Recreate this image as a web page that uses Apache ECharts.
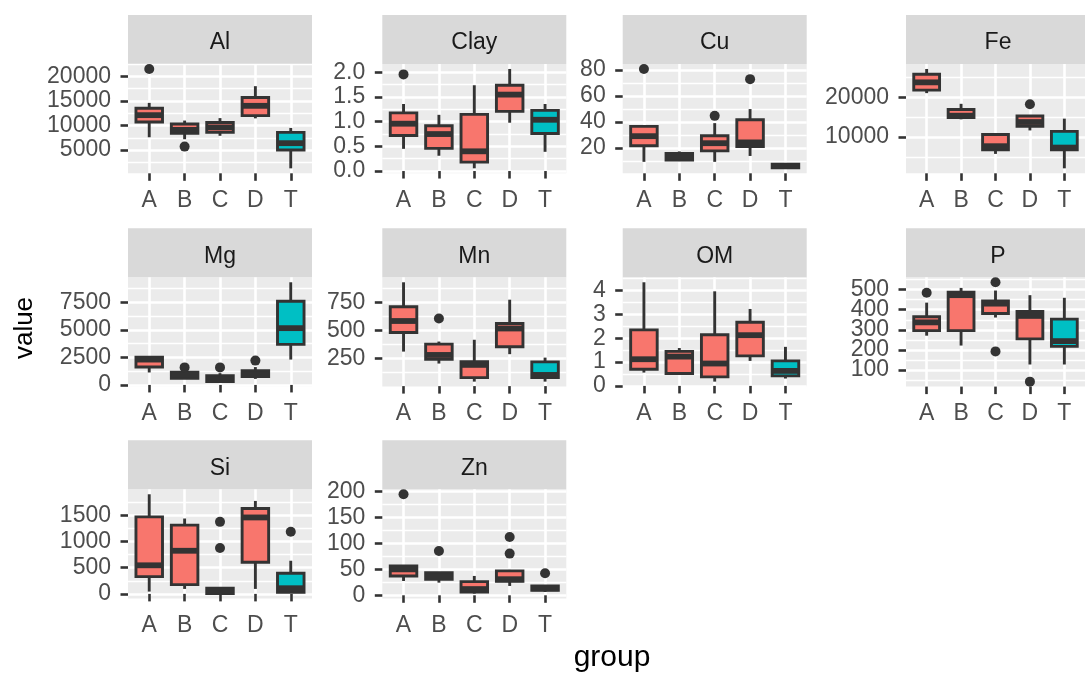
<!DOCTYPE html>
<html>
<head>
<meta charset="utf-8">
<script src="https://cdn.jsdelivr.net/npm/echarts@6/dist/echarts.min.js"></script>
<style>
  html, body { margin: 0; padding: 0; background: #ffffff; }
  #chart { width: 1085px; height: 675px; }
</style>
</head>
<body>
<div id="chart"></div>
<script>
// Groups on every panel's x axis
const groups = ['A', 'B', 'C', 'D', 'T'];
const elements = ['Al', 'Clay', 'Cu', 'Fe', 'Mg', 'Mn', 'OM', 'P', 'Si', 'Zn'];

// Box summaries per group (A, B, C, D, T): [lower whisker, Q1, median, Q3, upper whisker]
const alStats   = [[7600, 10700, 12100, 13500, 14600], [7200, 8400, 9100, 10300, 11000], [7900, 8600, 9600, 10600, 11500], [11450, 12000, 14000, 15700, 18000], [1280, 5000, 6400, 8600, 9500]];
const clayStats = [[0.45, 0.72, 0.96, 1.18, 1.36], [0.31, 0.46, 0.75, 0.92, 1.14], [0.055, 0.18, 0.40, 1.15, 1.74], [0.98, 1.21, 1.55, 1.74, 2.07], [0.39, 0.76, 1.04, 1.23, 1.36]];
const cuStats   = [[9.5, 21.8, 29.2, 36.7, 37.5], [10.8, 10.8, 13.3, 15.9, 17.5], [9.5, 17.9, 23.8, 29.5, 39.2], [14, 21.3, 24.4, 41.8, 50], [4.5, 4.9, 6.3, 7.7, 8.5]];
const feStats   = [[21100, 21860, 23820, 25860, 27200], [14480, 14910, 15400, 16950, 18400], [5750, 6770, 7700, 10660, 10920], [11680, 12700, 13800, 15340, 15500], [2110, 6770, 7350, 11430, 14660]];
const mgStats   = [[1130, 1620, 2300, 2510, 2550], [600, 610, 920, 1160, 1300], [300, 300, 515, 830, 1070], [550, 760, 970, 1290, 1620], [2300, 3680, 5150, 7590, 9310]];
const mnStats   = [[309, 480, 583, 711, 930], [202, 241, 279, 376, 399], [40, 76, 190, 219, 415], [286, 352, 516, 561, 774], [40, 76, 100, 217, 255]];
const omStats   = [[0.56, 0.70, 1.12, 2.35, 4.35], [0.50, 0.52, 1.23, 1.45, 1.59], [0.18, 0.38, 0.94, 2.15, 3.97], [1.05, 1.26, 2.13, 2.67, 3.23], [0.31, 0.42, 0.63, 1.05, 1.64]];
const pStats    = [[271, 296, 337, 365, 435], [222, 296, 472, 487, 508], [361, 381, 430, 443, 495], [128, 255, 369, 391, 472], [128, 218, 244, 353, 459]];
const siStats   = [[44, 329, 545, 1468, 1899], [95, 177, 822, 1310, 1437], [5, 6, 51, 108, 130], [95, 602, 1457, 1627, 1772], [20, 32, 108, 393, 632]];
const znStats   = [[27.6, 37.3, 50, 56.5, 57], [24.4, 30.9, 37, 43.7, 45], [3.2, 6.4, 12, 26.4, 37.3], [18, 27, 31, 47, 48.9], [6.4, 9.6, 13.5, 18, 18]];

// Points beyond the whiskers: [group, value]
const alOutliers   = [['A', 21500], ['B', 5700]];
const clayOutliers = [['A', 1.96]];
const cuOutliers   = [['A', 80.8], ['C', 44.8], ['D', 73]];
const feOutliers   = [['D', 18300]];
const mgOutliers   = [['B', 1590], ['C', 1590], ['D', 2205]];
const mnOutliers   = [['B', 606]];
const omOutliers   = [];
const pOutliers    = [['A', 484], ['C', 536], ['C', 193], ['D', 43]];
const siOutliers   = [['C', 1373], ['C', 874], ['T', 1183]];
const znOutliers   = [['A', 194.8], ['B', 85.5], ['D', 112.5], ['D', 80.4], ['T', 42.4]];

// Y tick labels per panel
const alTicks   = ['5000', '10000', '15000', '20000'];
const clayTicks = ['0.0', '0.5', '1.0', '1.5', '2.0'];
const cuTicks   = ['20', '40', '60', '80'];
const feTicks   = ['10000', '20000'];
const mgTicks   = ['0', '2500', '5000', '7500'];
const mnTicks   = ['250', '500', '750'];
const omTicks   = ['0', '1', '2', '3', '4'];
const pTicks    = ['100', '200', '300', '400', '500'];
const siTicks   = ['0', '500', '1000', '1500'];
const znTicks   = ['0', '50', '100', '150', '200'];

const panels = [
  { name: 'Al',   stats: alStats,   outliers: alOutliers,   ticks: alTicks },
  { name: 'Clay', stats: clayStats, outliers: clayOutliers, ticks: clayTicks },
  { name: 'Cu',   stats: cuStats,   outliers: cuOutliers,   ticks: cuTicks },
  { name: 'Fe',   stats: feStats,   outliers: feOutliers,   ticks: feTicks },
  { name: 'Mg',   stats: mgStats,   outliers: mgOutliers,   ticks: mgTicks },
  { name: 'Mn',   stats: mnStats,   outliers: mnOutliers,   ticks: mnTicks },
  { name: 'OM',   stats: omStats,   outliers: omOutliers,   ticks: omTicks },
  { name: 'P',    stats: pStats,    outliers: pOutliers,    ticks: pTicks },
  { name: 'Si',   stats: siStats,   outliers: siOutliers,   ticks: siTicks },
  { name: 'Zn',   stats: znStats,   outliers: znOutliers,   ticks: znTicks }
];

// Facet layout
const FONT = '"Liberation Sans", Arial, Helvetica, sans-serif';
const colLeft = [128, 382.3, 622.7, 906];
const rowTop = [64, 277.3, 489.3];
const panelW = 184;
const panelH = 109.3;
const stripH = 49;
const LINE = 2.9;
const GRID_LINE = 2.6;
const INK = '#333333';
const FILL_MAIN = '#F8766D';
const FILL_T = '#00BFC4';

const grids = [], xAxes = [], yAxes = [], series = [], graphics = [];

function renderBox(params, api) {
  const x = api.value(0);
  const lo = api.coord([x, api.value(1)]);
  const q1 = api.coord([x, api.value(2)]);
  const md = api.coord([x, api.value(3)]);
  const q3 = api.coord([x, api.value(4)]);
  const hi = api.coord([x, api.value(5)]);
  const half = api.size([0.75, 0])[0] / 2;
  const fill = api.value(6) ? FILL_T : FILL_MAIN;
  const cx = q1[0];
  const lineStyle = { stroke: INK, lineWidth: LINE };
  return {
    type: 'group',
    children: [
      { type: 'line', shape: { x1: cx, y1: hi[1], x2: cx, y2: q3[1] }, style: lineStyle },
      { type: 'line', shape: { x1: cx, y1: q1[1], x2: cx, y2: lo[1] }, style: lineStyle },
      { type: 'rect', shape: { x: cx - half, y: q3[1], width: half * 2, height: q1[1] - q3[1] },
        style: { fill: fill, stroke: INK, lineWidth: LINE } },
      { type: 'line', shape: { x1: cx - half, y1: md[1], x2: cx + half, y2: md[1] },
        style: { stroke: INK, lineWidth: LINE * 2 } }
    ]
  };
}

function yLabelStyle(values, labelOf) {
  return {
    customValues: values,
    formatter: v => labelOf[v] !== undefined ? labelOf[v] : String(v),
    showMinLabel: true, showMaxLabel: true, hideOverlap: false,
    fontSize: 23, fontFamily: FONT, color: '#4D4D4D', margin: 17, padding: [3, 0, 0, 0]
  };
}

panels.forEach((p, i) => {
  const col = i % 4, row = Math.floor(i / 4);
  const left = colLeft[col], top = rowTop[row];

  // y range: data span expanded by 5% on each side
  const values = [];
  p.stats.forEach(s => values.push(...s));
  p.outliers.forEach(o => values.push(o[1]));
  const lo = Math.min(...values), hi = Math.max(...values);
  const pad = (hi - lo) * 0.05;
  p.yMin = lo - pad;
  p.yMax = hi + pad;

  p.majors = p.ticks.map(Number);
  const step = p.majors.length > 1 ? p.majors[1] - p.majors[0] : p.majors[0];
  const minors = [p.majors[0] - step / 2];
  p.majors.forEach(m => minors.push(m + step / 2));
  p.minors = minors.filter(v => v > p.yMin && v < p.yMax);
  p.labelOf = {};
  p.ticks.forEach((t, k) => { p.labelOf[p.majors[k]] = t; });

  grids.push({ left: left, top: top, width: panelW, height: panelH, show: true,
    backgroundColor: '#EBEBEB', borderWidth: 0, containLabel: false });

  xAxes.push({
    type: 'value', gridIndex: i, min: 0.4, max: 5.6,
    axisLine: { show: false },
    axisTick: { show: true, customValues: [1, 2, 3, 4, 5], length: 7.5, lineStyle: { color: INK, width: GRID_LINE } },
    axisLabel: { customValues: [1, 2, 3, 4, 5], formatter: v => groups[Math.round(v) - 1],
      showMinLabel: true, showMaxLabel: true, hideOverlap: false,
      fontSize: 23, fontFamily: FONT, color: '#4D4D4D', margin: 16 },
    splitLine: { show: true, lineStyle: { color: '#FFFFFF', width: GRID_LINE } }
  });

  graphics.push({ type: 'rect', shape: { x: left, y: top - stripH, width: panelW, height: stripH },
    style: { fill: '#D9D9D9' }, silent: true });
  graphics.push({ type: 'text', x: left + panelW / 2, y: top - stripH / 2 + 3.5,
    style: { text: p.name, fill: '#1A1A1A', font: '23px ' + FONT, align: 'center', verticalAlign: 'middle' },
    silent: true });
});

// y axes 0..9: ticks, major grid lines and every other tick label
panels.forEach((p, i) => {
  yAxes.push({
    type: 'value', gridIndex: i, min: p.yMin, max: p.yMax, position: 'left',
    axisLine: { show: false },
    axisTick: { show: true, customValues: p.majors, length: 7.5, lineStyle: { color: INK, width: GRID_LINE } },
    axisLabel: yLabelStyle(p.majors.filter((v, k) => k % 2 === 0), p.labelOf),
    splitLine: { show: true, lineStyle: { color: '#FFFFFF', width: GRID_LINE } }
  });
});

// y axes 10..19: minor grid lines
panels.forEach((p, i) => {
  yAxes.push({
    type: 'value', gridIndex: i, min: p.yMin, max: p.yMax, position: 'right',
    axisLine: { show: false },
    axisTick: { show: false, customValues: p.minors },
    axisLabel: { show: false, customValues: p.minors },
    splitLine: { show: true, lineStyle: { color: '#FFFFFF', width: GRID_LINE / 2 } }
  });
});

// y axes 20..29: the remaining tick labels (kept on their own axis so close labels all show)
panels.forEach((p, i) => {
  const rest = p.majors.filter((v, k) => k % 2 === 1);
  yAxes.push({
    type: 'value', gridIndex: i, min: p.yMin, max: p.yMax, position: 'left', offset: 0,
    show: rest.length > 0,
    axisLine: { show: false },
    axisTick: { show: false, customValues: rest },
    axisLabel: yLabelStyle(rest, p.labelOf),
    splitLine: { show: false }
  });
});

panels.forEach((p, i) => {
  series.push({
    type: 'custom', name: p.name, xAxisIndex: i, yAxisIndex: i,
    renderItem: renderBox, clip: false, z: 3,
    encode: { x: 0, y: [1, 2, 3, 4, 5] },
    data: p.stats.map((s, g) => [g + 1, s[0], s[1], s[2], s[3], s[4], groups[g] === 'T' ? 1 : 0])
  });
  series.push({
    type: 'scatter', name: p.name + ' outliers', xAxisIndex: i, yAxisIndex: i,
    symbol: 'circle', symbolSize: 10, z: 4,
    itemStyle: { color: INK, opacity: 1 },
    data: p.outliers.map(o => [groups.indexOf(o[0]) + 1, o[1]])
  });
});

// axis titles
graphics.push({ type: 'text', x: 612, y: 658,
  style: { text: 'group', fill: '#000000', font: '30px ' + FONT, align: 'center', verticalAlign: 'middle' } });
graphics.push({ type: 'text', x: 25, y: 328, rotation: Math.PI / 2,
  style: { text: 'value', fill: '#000000', font: '26px ' + FONT, align: 'center', verticalAlign: 'middle' } });

const chart = echarts.init(document.getElementById('chart'), null, { renderer: 'canvas' });
chart.setOption({
  animation: false,
  backgroundColor: '#FFFFFF',
  grid: grids,
  xAxis: xAxes,
  yAxis: yAxes,
  series: series,
  graphic: graphics
});
</script>
</body>
</html>
